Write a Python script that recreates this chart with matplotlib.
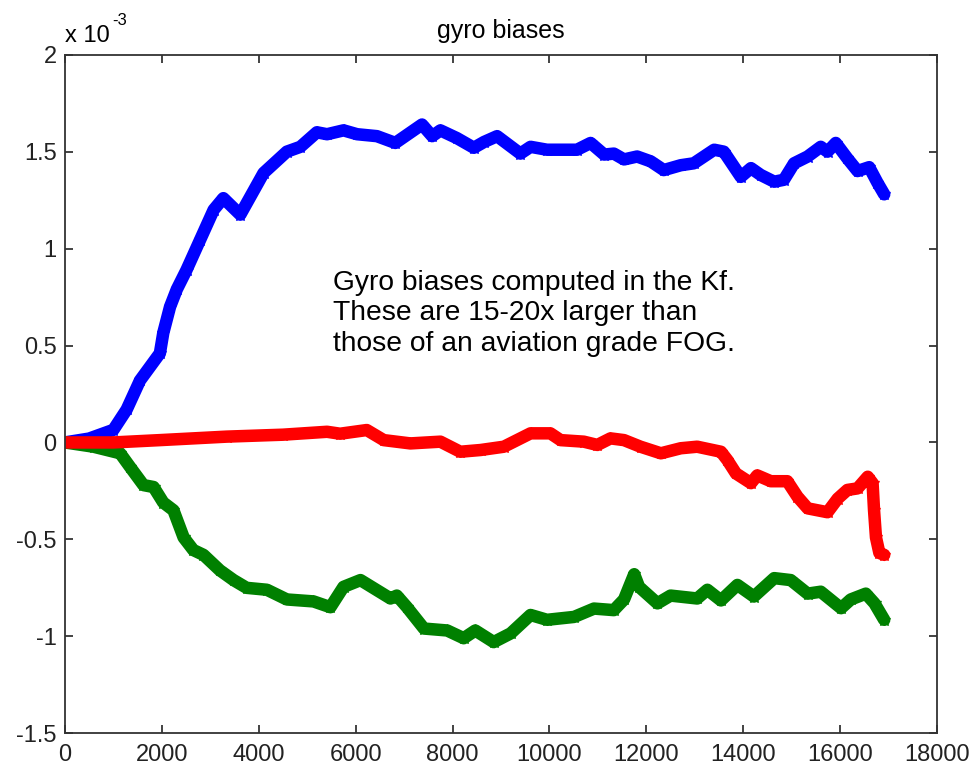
import matplotlib
matplotlib.use('Agg')
import matplotlib.pyplot as plt
from matplotlib.ticker import FuncFormatter

plt.rcParams['font.family'] = ['Liberation Sans', 'DejaVu Sans']

# gyro bias estimates, values in units of 1e-3
blue_x = [0, 500, 1000, 1275, 1550, 1960, 2030, 2170, 2310, 2510, 2790, 3070, 3270, 3620,
          4100, 4580, 4860, 5200, 5410, 5750, 6030, 6440, 6820, 7370, 7580, 7750, 8090,
          8440, 8650, 8920, 9400, 9610, 9950, 10570, 10850, 11130, 11330, 11540, 11810,
          12090, 12360, 12710, 12980, 13400, 13600, 13950, 14160, 14360, 14640, 14840,
          15050, 15330, 15600, 15740, 15910, 16150, 16360, 16600, 16770, 16910]
blue_y = [0, 0.02, 0.065, 0.17, 0.32, 0.46, 0.565, 0.70, 0.79, 0.89, 1.045, 1.20, 1.26, 1.175,
          1.39, 1.50, 1.525, 1.60, 1.59, 1.61, 1.59, 1.58, 1.545, 1.64, 1.58, 1.61, 1.57,
          1.52, 1.55, 1.58, 1.49, 1.525, 1.51, 1.51, 1.545, 1.485, 1.49, 1.46, 1.475,
          1.45, 1.405, 1.43, 1.44, 1.51, 1.50, 1.37, 1.415, 1.38, 1.345, 1.355,
          1.44, 1.475, 1.525, 1.50, 1.545, 1.465, 1.40, 1.42, 1.34, 1.28]

red_x = [0, 1000, 1960, 3340, 4500, 5410, 5680, 6230, 6580, 7130, 7750, 8160, 8580, 9060,
         9610, 10020, 10230, 10710, 10990, 11260, 11540, 11880, 12300, 12710, 13050, 13540,
         13670, 13850, 14160, 14290, 14570, 14910, 15120, 15330, 15740, 15950, 16150, 16360,
         16570, 16670, 16700, 16740, 16810, 16910]
red_y = [0, 0, 0.012, 0.03, 0.04, 0.055, 0.045, 0.064, 0.012, -0.005, 0.004, -0.048, -0.039,
         -0.022, 0.047, 0.047, 0.012, 0.004, -0.013, 0.021, 0.012, -0.022, -0.056, -0.03,
         -0.022, -0.048, -0.09, -0.16, -0.21, -0.17, -0.20, -0.20, -0.28, -0.34, -0.36,
         -0.29, -0.245, -0.237, -0.177, -0.21, -0.35, -0.49, -0.57, -0.58]

green_x = [0, 590, 1140, 1340, 1620, 1830, 2030, 2240, 2450, 2650, 2860, 3200, 3480, 3750,
           4170, 4580, 5130, 5480, 5750, 6100, 6720, 6850, 7060, 7410, 7890, 8230, 8470,
           8850, 9200, 9610, 9950, 10510, 10920, 11330, 11540, 11750, 11850, 12230, 12500,
           13050, 13260, 13540, 13880, 14220, 14640, 14980, 15330, 15600, 16020, 16220,
           16530, 16710, 16910]
green_y = [0, -0.022, -0.056, -0.125, -0.22, -0.23, -0.31, -0.35, -0.49, -0.555, -0.58, -0.66,
           -0.71, -0.75, -0.76, -0.81, -0.82, -0.85, -0.745, -0.71, -0.805, -0.79, -0.85,
           -0.96, -0.97, -1.01, -0.97, -1.03, -0.985, -0.89, -0.915, -0.90, -0.857, -0.865,
           -0.81, -0.68, -0.745, -0.83, -0.79, -0.805, -0.76, -0.815, -0.735, -0.795, -0.70,
           -0.71, -0.78, -0.77, -0.855, -0.81, -0.78, -0.83, -0.915]

scale = 1e-3
note = "Gyro biases computed in the Kf.\nThese are 15-20x larger than\nthose of an aviation grade FOG."

fig = plt.figure(figsize=(9.69, 7.71), dpi=100)
ax = fig.add_axes([0.067, 0.049, 0.9, 0.88])

for xs, ys, c in [(blue_x, blue_y, 'blue'), (green_x, green_y, '#008000'), (red_x, red_y, 'red')]:
    ax.plot(xs, [v * scale for v in ys], color=c, lw=9, marker='*', ms=9,
            solid_joinstyle='round', solid_capstyle='round')

ax.set_xlim(0, 18000)
ax.set_ylim(-1.5e-3, 2e-3)
ax.set_xticks(range(0, 18001, 2000))
ax.set_yticks([v * scale for v in [-1.5, -1, -0.5, 0, 0.5, 1, 1.5, 2]])
ax.yaxis.set_major_formatter(FuncFormatter(lambda v, p: '%g' % round(v / scale, 3)))
ax.tick_params(direction='in', top=True, right=True, length=6, width=1.2,
               labelsize=17, colors='#222222')
ax.tick_params(axis='x', pad=8)
ax.tick_params(axis='y', pad=6)
for s in ax.spines.values():
    s.set_linewidth(1.3)
    s.set_color('#333333')

ax.set_title('gyro biases', fontsize=18, pad=12)
ax.text(0.0, 1.012, 'x 10', transform=ax.transAxes, fontsize=17, va='bottom', ha='left')
ax.text(0.054, 1.04, '-3', transform=ax.transAxes, fontsize=12, va='bottom', ha='left')
ax.text(5540, 0.89e-3, note, fontsize=20.3, va='top', ha='left', linespacing=1.22)

plt.savefig('out.png', dpi=100)
